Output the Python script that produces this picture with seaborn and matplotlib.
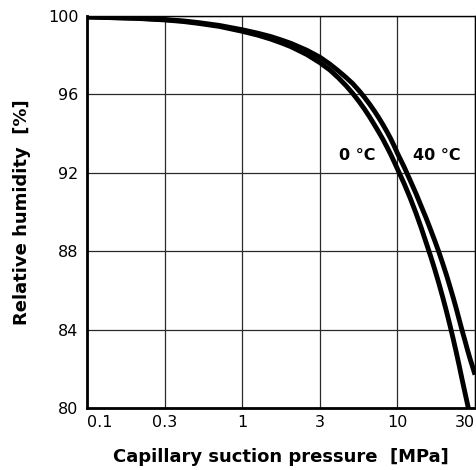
import numpy as np
import pandas as pd
import matplotlib
matplotlib.use("Agg")
import matplotlib.pyplot as plt
import seaborn as sns

# ---- data ----
x_ticks = [0.1, 0.3, 1, 3, 10, 30]
x_tick_labels = ["0.1", "0.3", "1", "3", "10", "30"]
y_ticks = [80, 84, 88, 92, 96, 100]

p_0C = [0.1, 0.2, 0.3, 0.4, 0.5, 0.7, 1, 1.25, 1.5, 1.75, 2, 2.5, 3, 3.5, 4, 4.5, 5, 5.5,
        6, 6.5, 7, 7.5, 8, 8.5, 9, 9.5, 10, 11, 12, 13, 14, 15, 16, 17, 18, 19, 20,
        21, 22, 23, 24, 25, 26, 27.3]
rh_0C = [99.95, 99.88, 99.8, 99.72, 99.63, 99.47, 99.22, 99.02, 98.82, 98.62, 98.43,
         98.03, 97.62, 97.25, 96.85, 96.45, 96.05, 95.65, 95.25, 94.85, 94.45, 94.07,
         93.7, 93.32, 92.95, 92.57, 92.2, 91.45, 90.7, 89.95, 89.2, 88.45, 87.75,
         87.05, 86.35, 85.65, 84.95, 84.25, 83.55, 82.85, 82.15, 81.45, 80.8, 80.0]

p_40C = [0.1, 0.2, 0.3, 0.4, 0.5, 0.7, 1, 1.25, 1.5, 1.75, 2, 2.5, 3, 3.5, 4, 4.5, 5, 5.5,
         6, 6.5, 7, 7.5, 8, 8.5, 9, 9.5, 10, 11, 12, 13, 14, 15, 16, 17, 18, 19, 20,
         21, 22, 23, 24, 25, 26, 27, 28, 29, 30]
rh_40C = [99.95, 99.89, 99.82, 99.75, 99.67, 99.52, 99.3, 99.12, 98.95, 98.77, 98.6,
          98.25, 97.9, 97.55, 97.2, 96.87, 96.55, 96.2, 95.85, 95.5, 95.15, 94.8,
          94.45, 94.1, 93.75, 93.38, 93.0, 92.3, 91.6, 90.95, 90.3, 89.7, 89.1, 88.52,
          87.95, 87.37, 86.8, 86.22, 85.65, 85.08, 84.5, 83.95, 83.45, 82.95, 82.5,
          82.1, 81.7]

labels = ["0 °C", "40 °C"]

df = pd.concat([
    pd.DataFrame({"p": p_0C, "rh": rh_0C, "T": labels[0]}),
    pd.DataFrame({"p": p_40C, "rh": rh_40C, "T": labels[1]}),
])

sns.set_style("ticks")
plt.rcParams["font.family"] = ["DejaVu Sans"]
plt.rcParams["text.color"] = "black"
plt.rcParams["axes.labelcolor"] = "black"

fig = plt.figure(figsize=(4.77, 4.70), dpi=100)
ax = fig.add_axes([87 / 477, 1 - 408 / 470, (475 - 87) / 477, (408 - 16) / 470])

# equally spaced tick positions (piecewise-log axis as in the reference)
lt = np.log10(np.array(x_ticks, dtype=float))
pos = np.arange(len(x_ticks), dtype=float)

def fwd(x):
    l = np.log10(np.clip(np.asarray(x, dtype=float), 1e-12, None))
    out = np.interp(l, lt, pos)
    out = np.where(l < lt[0], (l - lt[0]) / (lt[1] - lt[0]), out)
    out = np.where(l > lt[-1], pos[-1] + (l - lt[-1]) / (lt[-1] - lt[-2]), out)
    return out

def inv(y):
    y = np.asarray(y, dtype=float)
    out = np.interp(y, pos, lt)
    out = np.where(y < 0, lt[0] + y * (lt[1] - lt[0]), out)
    out = np.where(y > pos[-1], lt[-1] + (y - pos[-1]) * (lt[-1] - lt[-2]), out)
    return 10 ** out

ax.set_xscale("function", functions=(fwd, inv))

sns.lineplot(data=df, x="p", y="rh", hue="T", palette=["black", "black"],
             legend=False, linewidth=3.5, sort=False, ax=ax,
             solid_capstyle="butt", solid_joinstyle="round")

ax.set_xlim(0.1, 30)
ax.set_ylim(80, 100)
ax.set_xticks(x_ticks)
ax.set_xticklabels(x_tick_labels)
ax.set_yticks(y_ticks)
ax.minorticks_off()
ax.tick_params(axis="both", length=0, labelsize=11.5, colors="black", labelcolor="black")
ax.tick_params(axis="x", pad=5)
ax.tick_params(axis="y", pad=6)
xt = ax.get_xticklabels()
xt[0].set_ha("left")
xt[-1].set_ha("right")

ax.grid(True, color="#2a2a2a", linewidth=0.9)
ax.set_axisbelow(True)
for s in ["left", "bottom"]:
    ax.spines[s].set_linewidth(2.0)
for s in ["top", "right"]:
    ax.spines[s].set_linewidth(1.0)
for s in ax.spines.values():
    s.set_color("black")

ax.set_xlabel("Capillary suction pressure  [MPa]", fontsize=13, fontweight="semibold",
              labelpad=13, color="black")
ax.set_ylabel("Relative humidity  [%]", fontsize=13, fontweight="semibold",
              labelpad=12, color="black")

ax.text(5.33, 92.9, labels[0], fontsize=11.5, fontweight="semibold", ha="center", va="center")
ax.text(17.4, 92.9, labels[1], fontsize=11.5, fontweight="semibold", ha="center", va="center")

fig.savefig("out.png", dpi=100)
